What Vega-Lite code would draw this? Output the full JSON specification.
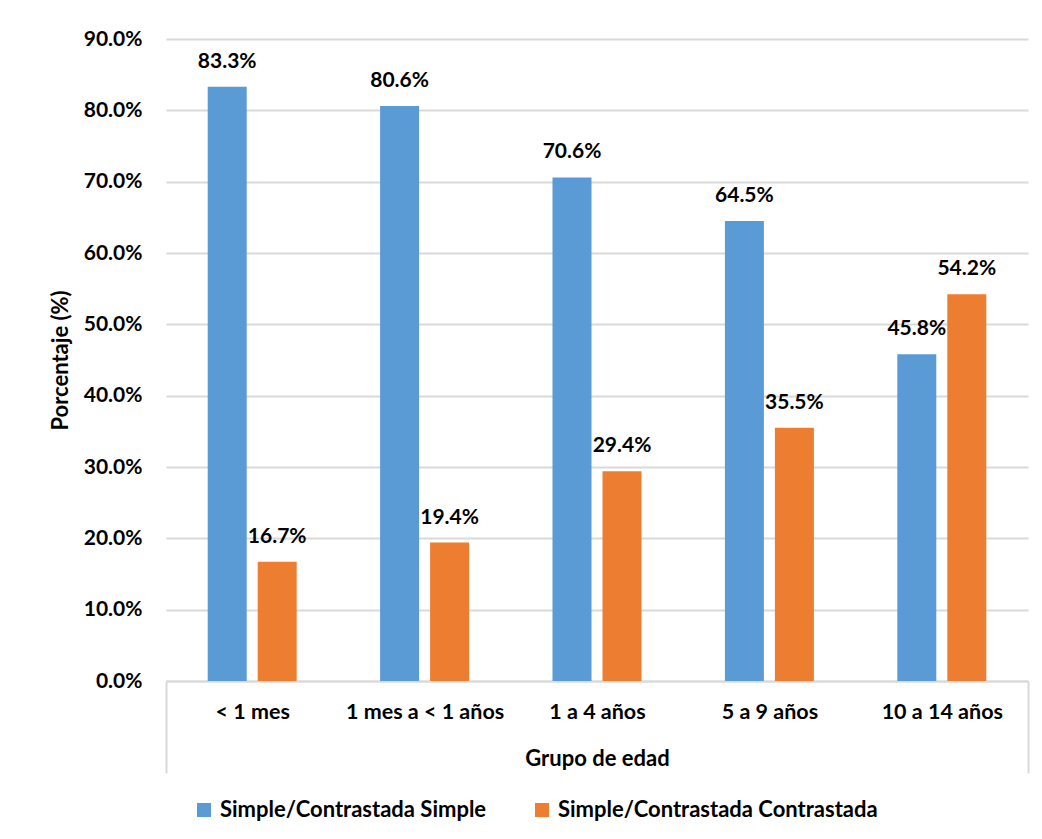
{
  "$schema": "https://vega.github.io/schema/vega-lite/v6.json",
  "width": 862,
  "height": 642,
  "autosize": {"type": "none"},
  "padding": {"left": 166, "top": 39, "right": 14, "bottom": 158},
  "background": "white",
  "data": {
    "values": [
      {"grupo": "< 1 mes", "tipo": "Simple/Contrastada Simple", "pct": 0.833},
      {"grupo": "< 1 mes", "tipo": "Simple/Contrastada Contrastada", "pct": 0.167},
      {"grupo": "1 mes a < 1 años", "tipo": "Simple/Contrastada Simple", "pct": 0.806},
      {"grupo": "1 mes a < 1 años", "tipo": "Simple/Contrastada Contrastada", "pct": 0.194},
      {"grupo": "1 a 4 años", "tipo": "Simple/Contrastada Simple", "pct": 0.706},
      {"grupo": "1 a 4 años", "tipo": "Simple/Contrastada Contrastada", "pct": 0.294},
      {"grupo": "5 a 9 años", "tipo": "Simple/Contrastada Simple", "pct": 0.645},
      {"grupo": "5 a 9 años", "tipo": "Simple/Contrastada Contrastada", "pct": 0.355},
      {"grupo": "10 a 14 años", "tipo": "Simple/Contrastada Simple", "pct": 0.458},
      {"grupo": "10 a 14 años", "tipo": "Simple/Contrastada Contrastada", "pct": 0.542}
    ]
  },
  "encoding": {
    "x": {
      "field": "grupo",
      "type": "nominal",
      "sort": ["< 1 mes", "1 mes a < 1 años", "1 a 4 años", "5 a 9 años", "10 a 14 años"],
      "scale": {"paddingInner": 0, "paddingOuter": 0},
      "axis": {
        "title": "Grupo de edad",
        "labelAngle": 0,
        "labelFontSize": 21.5,
        "tickBand": "extent",
        "tickSize": 92,
        "tickColor": "#D9D9D9",
        "tickWidth": 2,
        "tickOpacity": {"condition": {"test": "datum.index < 0 || datum.index >= 1", "value": 1}, "value": 0},
        "labelPadding": -72,
        "domainColor": "#D9D9D9",
        "domainWidth": 2,
        "titleY": 77,
        "titleBaseline": "middle"
      }
    },
    "xOffset": {
      "field": "tipo",
      "type": "nominal",
      "sort": ["Simple/Contrastada Simple", "Simple/Contrastada Contrastada"],
      "scale": {"paddingInner": 0.22, "paddingOuter": 0.834}
    },
    "y": {
      "field": "pct",
      "type": "quantitative",
      "scale": {"domain": [0, 0.9]},
      "axis": {
        "title": "Porcentaje (%)",
        "format": ".1%",
        "values": [0, 0.1, 0.2, 0.3, 0.4, 0.5, 0.6, 0.7, 0.8, 0.9],
        "labelFontSize": 21,
        "labelOverlap": false,
        "domain": false,
        "ticks": false,
        "labelPadding": 24,
        "titlePadding": 11,
        "gridColor": "#D9D9D9",
        "gridWidth": 2
      }
    }
  },
  "layer": [
    {
      "mark": {"type": "bar"},
      "encoding": {
        "color": {
          "field": "tipo",
          "type": "nominal",
          "sort": ["Simple/Contrastada Simple", "Simple/Contrastada Contrastada"],
          "scale": {"range": ["#5B9BD5", "#ED7D31"]},
          "legend": {
            "title": null,
            "orient": "none",
            "direction": "horizontal",
            "legendX": 27,
            "legendY": 760,
            "symbolType": "square",
            "symbolSize": 196,
            "symbolStrokeWidth": 0,
            "labelOffset": 5,
            "columnPadding": 44,
            "labelFontSize": 22,
            "labelFont": "Lato",
            "labelFontWeight": "bold",
            "labelColor": "black",
            "labelLimit": 500
          }
        }
      }
    },
    {
      "mark": {
        "type": "text",
        "baseline": "middle",
        "dy": -25,
        "font": "Lato",
        "fontSize": 21,
        "fontWeight": "bold",
        "color": "black"
      },
      "encoding": {
        "text": {"field": "pct", "type": "quantitative", "format": ".1%"}
      }
    }
  ],
  "config": {
    "view": {"stroke": null},
    "axis": {
      "labelFont": "Lato",
      "labelFontSize": 21,
      "labelFontWeight": "bold",
      "labelColor": "black",
      "titleFont": "Lato",
      "titleFontSize": 22,
      "titleFontWeight": "bold",
      "titleColor": "black",
      "labelLimit": 300
    }
  }
}
